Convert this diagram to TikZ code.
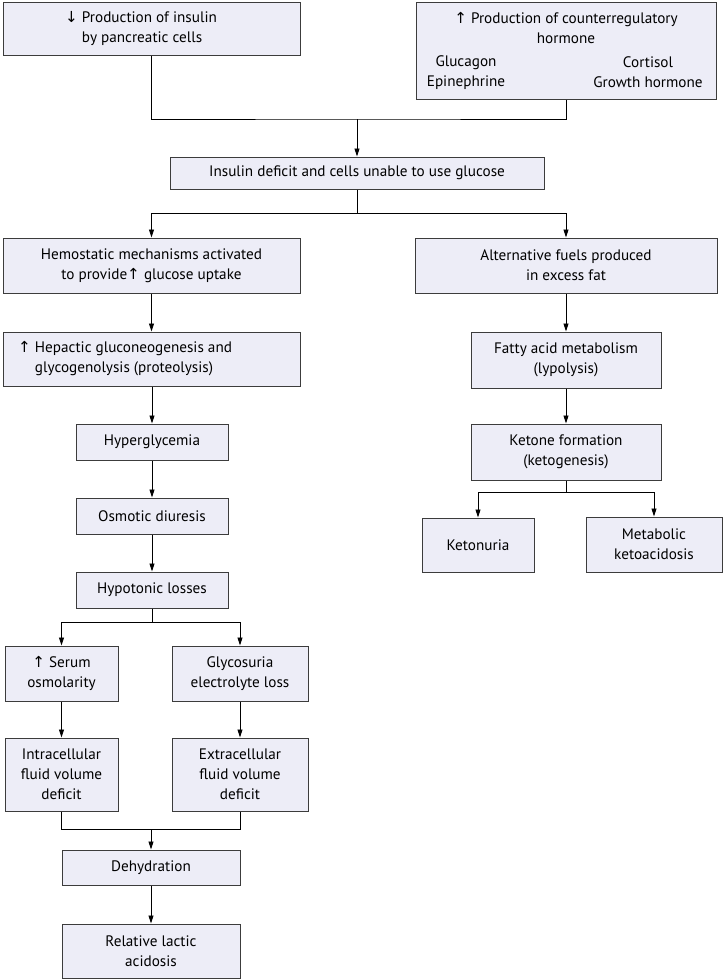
\documentclass[tikz,border=0pt]{standalone}
\usepackage{fontspec}
\setmainfont{PT Sans}
\newfontfamily\arrfont{DejaVu Sans}
\usetikzlibrary{arrows.meta}
\definecolor{boxfill}{RGB}{237,237,247}
\definecolor{boxline}{RGB}{60,60,60}
\newcommand{\upa}{{\arrfont\char"2191}}
\newcommand{\dna}{{\arrfont\char"2193}}
\newcommand{\fs}{\fontsize{15.2}{20}\selectfont}
\begin{document}
\begin{tikzpicture}[x=1pt,y=-1pt,
  box/.style={draw=boxline, fill=boxfill, line width=1pt, inner sep=0pt, align=center, font=\fs},
  txt/.style={inner sep=0pt, font=\fs},
  conn/.style={line width=0.9pt, draw=black},
  arr/.style={conn, -{Triangle[length=8pt,width=5pt]}}]
\useasboundingbox (0,0) rectangle (724,980);
% boxes
\node[box, minimum width=297pt, minimum height=53pt] (ins) at (151.5,28.5) {};
\node[txt, anchor=west, align=left] (insT) at (65,29) {\dna{} Production of insulin\\\phantom{\dna{} }by pancreatic cells};
\node[box, minimum width=300pt, minimum height=97pt] (cnt) at (566,50.5) {};
\node[txt, align=center] (cntT) at (566,28) {\upa{} Production of counterregulatory\\hormone};
\node[txt, align=center] (cntL) at (466,72.5) {Glucagon\\Epinephrine};
\node[txt, align=center] (cntR) at (648,72.5) {Cortisol\\Growth hormone};
\node[box, minimum width=374pt, minimum height=32pt] (def) at (357,173) {Insulin deficit and cells unable to use glucose};
\node[box, minimum width=297pt, minimum height=55pt] (hem) at (151.5,265.5) {Hemostatic mechanisms activated\\to provide\upa{} glucose uptake};
\node[box, minimum width=302pt, minimum height=55pt] (alt) at (566,265.5) {Alternative fuels produced\\in excess fat};
\node[box, minimum width=297pt, minimum height=54pt] (hep) at (151.5,359) {};
\node[txt, anchor=west, align=left] (hepT) at (18,359) {\upa{} Hepactic gluconeogenesis and\\\phantom{\upa{} }glycogenolysis (proteolysis)};
\node[box, minimum width=190pt, minimum height=56pt] (fat) at (566,360) {Fatty acid metabolism\\(lypolysis)};
\node[box, minimum width=152pt, minimum height=36pt] (hyp) at (152,442) {Hyperglycemia};
\node[box, minimum width=152pt, minimum height=36pt] (osm) at (152,516) {Osmotic diuresis};
\node[box, minimum width=152pt, minimum height=36pt] (hpl) at (152,590) {Hypotonic losses};
\node[box, minimum width=190pt, minimum height=56pt] (ket) at (566,452) {Ketone formation\\(ketogenesis)};
\node[box, minimum width=112pt, minimum height=54pt] (ktu) at (478,545) {Ketonuria};
\node[box, minimum width=136pt, minimum height=55pt] (mka) at (654,544.5) {Metabolic\\ketoacidosis};
\node[box, minimum width=113pt, minimum height=55pt] (ser) at (61.5,673.5) {\upa{} Serum\\osmolarity};
\node[box, minimum width=136pt, minimum height=55pt] (gly) at (240,673.5) {Glycosuria\\electrolyte loss};
\node[box, minimum width=113pt, minimum height=73pt] (ic) at (61.5,774.5) {Intracellular\\fluid volume\\deficit};
\node[box, minimum width=136pt, minimum height=73pt] (ec) at (240,774.5) {Extracellular\\fluid volume\\deficit};
\node[box, minimum width=178pt, minimum height=35pt] (deh) at (151,867.5) {Dehydration};
\node[box, minimum width=178pt, minimum height=54pt] (rla) at (151,951) {Relative lactic\\acidosis};
% junctions
\coordinate (j1) at (357,119);
\coordinate (j2) at (357,213);
\coordinate (j3) at (566,492);
\coordinate (j4) at (152,622);
\coordinate (j5) at (151,829);
% connectors
\draw[conn] (ins.south) |- (j1) -| (cnt.south);
\draw[arr] (j1) -- (def.north);
\draw[conn] (def.south) -- (j2);
\draw[arr] (j2) -| (hem.north);
\draw[arr] (j2) -| (alt.north);
\draw[arr] (hem.south) -- (hep.north);
\draw[arr] (alt.south) -- (fat.north);
\draw[arr] (hep.south -| hyp.north) -- (hyp.north);
\draw[arr] (hyp.south) -- (osm.north);
\draw[arr] (osm.south) -- (hpl.north);
\draw[arr] (fat.south) -- (ket.north);
\draw[conn] (ket.south) -- (j3);
\draw[arr] (j3) -| (ktu.north);
\draw[arr] (j3) -| (mka.north);
\draw[conn] (hpl.south) -- (j4);
\draw[arr] (j4) -| (ser.north);
\draw[arr] (j4) -| (gly.north);
\draw[arr] (ser.south) -- (ic.north);
\draw[arr] (gly.south) -- (ec.north);
\draw[conn] (ic.south) |- (j5) -| (ec.south);
\draw[arr] (j5) -- (deh.north);
\draw[arr] (deh.south) -- (rla.north);
\end{tikzpicture}
\end{document}
